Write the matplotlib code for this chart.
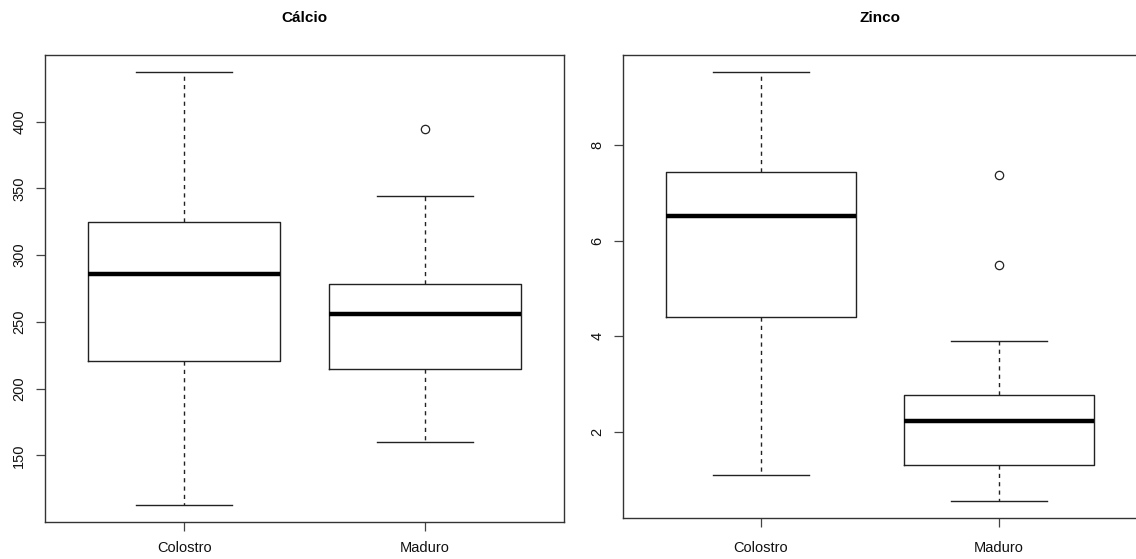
import matplotlib
matplotlib.use("Agg")
import matplotlib.pyplot as plt

plt.rcParams['font.family'] = ['Liberation Sans', 'DejaVu Sans']

categories = ["Colostro", "Maduro"]

# Cálcio: five-number summaries (whisker low, Q1, median, Q3, whisker high) and outliers
calcio_low = [113, 160]
calcio_q1 = [221, 215]
calcio_med = [286, 256]
calcio_q3 = [325, 278]
calcio_high = [437, 344]
calcio_out = [[], [394.5]]
calcio_ticks = [150, 200, 250, 300, 350, 400]

# Zinco
zinco_low = [1.10, 0.55]
zinco_q1 = [4.41, 1.31]
zinco_med = [6.51, 2.23]
zinco_q3 = [7.43, 2.76]
zinco_high = [9.53, 3.90]
zinco_out = [[], [7.37, 5.49]]
zinco_ticks = [2, 4, 6, 8]

W, H = 1136, 559
fig = plt.figure(figsize=(W / 100, H / 100), dpi=100)


def px_axes(x0, y0, x1, y1):
    return fig.add_axes([x0 / W, 1 - y1 / H, (x1 - x0) / W, (y1 - y0) / H])


def draw(ax, low, q1, med, q3, high, out, ticks, title, hpx, xpad):
    stats = []
    for i, name in enumerate(categories):
        stats.append(dict(label=name, whislo=low[i], q1=q1[i], med=med[i],
                          q3=q3[i], whishi=high[i], fliers=out[i]))
    ax.bxp(stats, positions=[1, 2], widths=0.8, showfliers=True,
           boxprops=dict(color='#222222', linewidth=1.0),
           medianprops=dict(color='black', linewidth=3.2, solid_capstyle='butt'),
           whiskerprops=dict(color='#222222', linewidth=1.0, linestyle=(0, (3, 3))),
           capprops=dict(color='#222222', linewidth=1.0),
           capwidths=0.4,
           flierprops=dict(marker='o', markerfacecolor='none', markeredgecolor='#222222',
                           markersize=6, markeredgewidth=0.9))
    allv = list(low) + list(high) + [v for o in out for v in o]
    lo, hi = min(allv), max(allv)
    pad = 0.04 * (hi - lo)
    ax.set_ylim(lo - pad, hi + pad)
    ax.set_xlim(0.42, 2.58)
    ax.set_yticks(ticks)
    ax.set_yticklabels([str(t) for t in ticks], rotation=90, va='center', fontsize=10.5)
    ax.set_xticks([1, 2])
    ax.set_xticklabels(categories, fontsize=10.5)
    ax.tick_params(axis='both', direction='out', length=6.5, width=0.9, color='#444444',
                   labelcolor='#111111')
    ax.tick_params(axis='y', pad=7)
    ax.tick_params(axis='x', pad=xpad)
    for s in ax.spines.values():
        s.set_color('#333333')
        s.set_linewidth(1.0)
    ax.text(0.5, 1 + 37 / hpx, title, transform=ax.transAxes, ha='center', va='center',
            fontsize=11, fontweight='bold')


ax1 = px_axes(45, 55, 564, 522)
draw(ax1, calcio_low, calcio_q1, calcio_med, calcio_q3, calcio_high, calcio_out,
     calcio_ticks, "Cálcio", 467, 7)

ax2 = px_axes(623, 55, 1137, 518)
draw(ax2, zinco_low, zinco_q1, zinco_med, zinco_q3, zinco_high, zinco_out,
     zinco_ticks, "Zinco", 463, 10)

fig.savefig("out.png", dpi=100)
